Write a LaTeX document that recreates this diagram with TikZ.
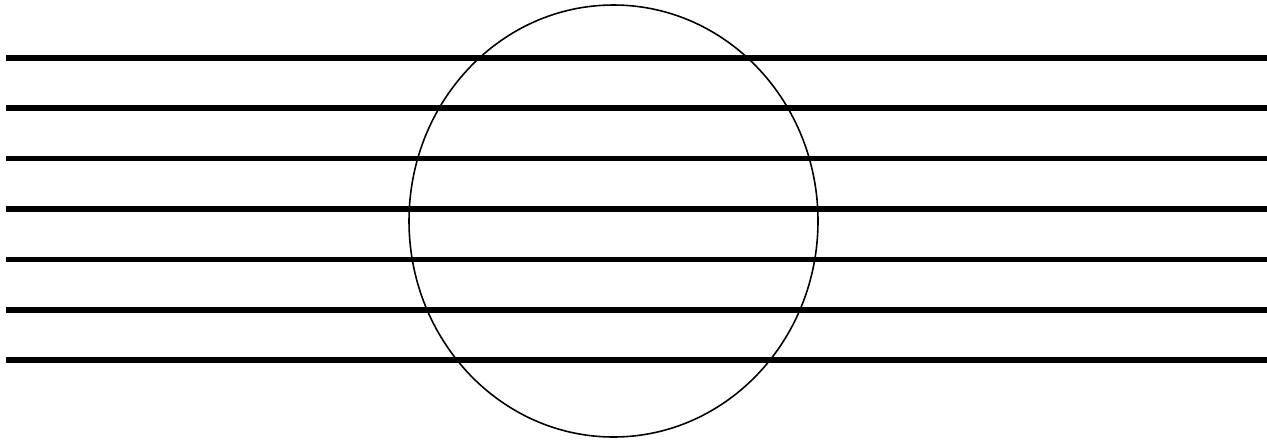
\documentclass[tikz,border=0pt]{standalone}
\usepackage{tikz}

\begin{document}
\begin{tikzpicture}[x=0.1cm,y=-0.1cm]
\useasboundingbox (0,0) rectangle (126.7,44.2);
\draw[line width=1.45pt]
	   (0.6,5.8) -- (126.7,5.8)
	   (0.6,10.8) -- (126.7,10.8)
	   (0.6,15.85) -- (126.7,15.85)
	   (0.6,20.9) -- (126.7,20.9)
	   (0.6,25.95) -- (126.7,25.95)
	   (0.6,31.0) -- (126.7,31.0)
	   (0.6,36.0) -- (126.7,36.0);
%
\draw[line width=0.45pt] (61.35,22.1) ellipse (20.45 and 21.6);
\end{tikzpicture}
\end{document}
